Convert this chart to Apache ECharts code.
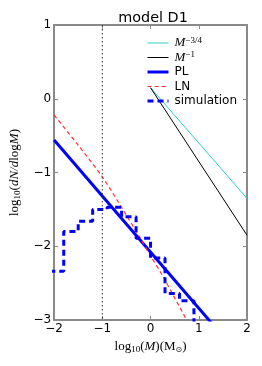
<!DOCTYPE html>
<html>
<head>
<meta charset="utf-8">
<script src="https://cdn.jsdelivr.net/npm/echarts@6/dist/echarts.min.js"></script>
<style>html,body{margin:0;padding:0;background:#fff;}#c{width:262px;height:366px;}</style>
</head>
<body>
<div id="c"></div>
<script>
// ---- data ----
const xTicks = [-2, -1, 0, 1, 2];
const yTicks = [1, 0, -1, -2, -3];
const slopeX = [0, 2];
const m34Y = [0.15, -1.35];
const m1Y = [0.15, -1.85];
const plX = [-2, 2];
const plY = [-0.56, -3.60];
const lnX = [-2, -1.5, -1, -0.5, -0.25, 0, 0.25, 0.5, 0.8];
const lnY = [-0.22, -0.63, -1.06, -1.58, -1.85, -2.13, -2.40, -2.70, -3.06];
const simEdges = [-2.1, -1.8, -1.5, -1.2, -0.9, -0.6, -0.3, 0, 0.3, 0.6, 0.9];
const simVals = [-2.34, -1.80, -1.66, -1.50, -1.47, -1.60, -1.89, -2.16, -2.64, -2.74];
const vlineX = [-1, -1];
const vlineY = [1, -3];

const zip = (a, b) => a.map((v, i) => [v, b[i]]);
const simData = simEdges.slice(0, -1).map((e, i) => [e, simVals[i]]);
simData.push([simEdges[simEdges.length - 1], simVals[simVals.length - 1]]);
simData.push([simEdges[simEdges.length - 1], -3.3]);

const frame = { show: true, onZero: false, lineStyle: { color: '#8a8a8a', width: 2 } };
const tick = { show: true, inside: true, length: 4, lineStyle: { color: '#8a8a8a', width: 1 } };
const minus = v => String(v).replace('-', '\u2212');
const tickFont = { fontFamily: 'DejaVu Sans', fontSize: 12, color: '#000' };

const serif = 'Liberation Serif';
const mathRich = {
  r: { fontFamily: serif, fontSize: 13, color: '#000', lineHeight: 16, verticalAlign: 'middle' },
  i: { fontFamily: serif, fontStyle: 'italic', fontSize: 13, color: '#000', lineHeight: 16, verticalAlign: 'middle' },
  sub: { fontFamily: serif, fontSize: 9, color: '#000', lineHeight: 5, verticalAlign: 'bottom' },
  subs: { fontFamily: 'DejaVu Sans', fontSize: 8, color: '#000', lineHeight: 5, verticalAlign: 'bottom' }
};
const legRich = {
  t: { fontFamily: 'DejaVu Sans', fontSize: 12, color: '#000', lineHeight: 14, verticalAlign: 'middle' },
  mi: { fontFamily: serif, fontStyle: 'italic', fontSize: 13, color: '#000', lineHeight: 14, verticalAlign: 'middle' },
  sup: { fontFamily: serif, fontSize: 9, color: '#000', lineHeight: 4, verticalAlign: 'top' }
};
const legLabels = {
  'M34': '{mi|M}{sup|\u22123/4}',
  'M1': '{mi|M}{sup|\u22121}',
  'PL': '{t|PL}',
  'LN': '{t|LN}',
  'simulation': '{t|simulation}'
};

const chart = echarts.init(document.getElementById('c'), null, { renderer: 'canvas' });
chart.setOption({
  animation: false,
  backgroundColor: '#fff',
  title: {
    text: 'model D1', left: 148, top: 6, textAlign: 'center',
    textStyle: { fontFamily: 'DejaVu Sans', fontSize: 14.4, fontWeight: 'normal', color: '#000' }
  },
  grid: { left: 49, right: 15, top: 25, bottom: 46 },
  legend: {
    orient: 'vertical', left: 141, top: 31, itemWidth: 21, itemHeight: 8, itemGap: 0.5,
    data: [
      { name: 'M34', lineStyle: { width: 1 } },
      { name: 'M1', lineStyle: { width: 1 } },
      { name: 'PL', lineStyle: { width: 3 } },
      { name: 'LN', lineStyle: { width: 1.2 } },
      { name: 'simulation', lineStyle: { width: 3 } }
    ],
    formatter: n => legLabels[n],
    itemStyle: { opacity: 0 },
    textStyle: { padding: [0, 0, 0, 1], lineHeight: 14, rich: legRich },
    selectedMode: false
  },
  xAxis: [
    { type: 'value', min: -2, max: 2, interval: 1, position: 'bottom',
      axisLine: frame, axisTick: tick, splitLine: { show: false },
      axisLabel: Object.assign({ margin: 3, formatter: minus }, tickFont),
      name: '{r|log}{sub|10}{r|(}{i|M}{r|)(M}{subs|\u2299}{r|)}', nameLocation: 'middle', nameGap: 15,
      nameTextStyle: { rich: mathRich } },
    { type: 'value', min: -2, max: 2, interval: 1, position: 'top',
      axisLine: frame, axisTick: tick, splitLine: { show: false }, axisLabel: { show: false } }
  ],
  yAxis: [
    { type: 'value', min: -3, max: 1, interval: 1, position: 'left',
      axisLine: frame, axisTick: tick, splitLine: { show: false },
      axisLabel: Object.assign({ margin: 3, formatter: minus }, tickFont),
      name: '{r|log}{sub|10}{r|(}{i|dN/d}{r|log}{i|M}{r|)}', nameLocation: 'middle', nameGap: 26, nameRotate: 90,
      nameTextStyle: { rich: mathRich } },
    { type: 'value', min: -3, max: 1, interval: 1, position: 'right',
      axisLine: frame, axisTick: tick, splitLine: { show: false }, axisLabel: { show: false } }
  ],
  series: [
    { name: 'M34', type: 'line', data: zip(slopeX, m34Y), symbol: 'none', clip: true,
      lineStyle: { color: '#2ecccc', width: 1 }, itemStyle: { color: '#2ecccc' } },
    { name: 'M1', type: 'line', data: zip(slopeX, m1Y), symbol: 'none', clip: true,
      lineStyle: { color: '#000', width: 1 }, itemStyle: { color: '#000' } },
    { name: 'PL', type: 'line', data: zip(plX, plY), symbol: 'none', clip: true,
      lineStyle: { color: '#0000ff', width: 3 }, itemStyle: { color: '#0000ff' } },
    { name: 'LN', type: 'line', data: zip(lnX, lnY), symbol: 'none', clip: true, smooth: 0.3,
      lineStyle: { color: '#ff3030', width: 1.2, type: [4, 3] }, itemStyle: { color: '#ff3030' } },
    { name: 'simulation', type: 'line', data: simData, step: 'end', symbol: 'none', clip: true,
      lineStyle: { color: '#0000ff', width: 3, type: [6, 4] }, itemStyle: { color: '#0000ff' } },
    { name: 'vline', type: 'line', data: zip(vlineX, vlineY), symbol: 'none', clip: true,
      lineStyle: { color: '#333', width: 1, type: [1.5, 2.5] }, silent: true }
  ]
});
</script>
</body>
</html>
